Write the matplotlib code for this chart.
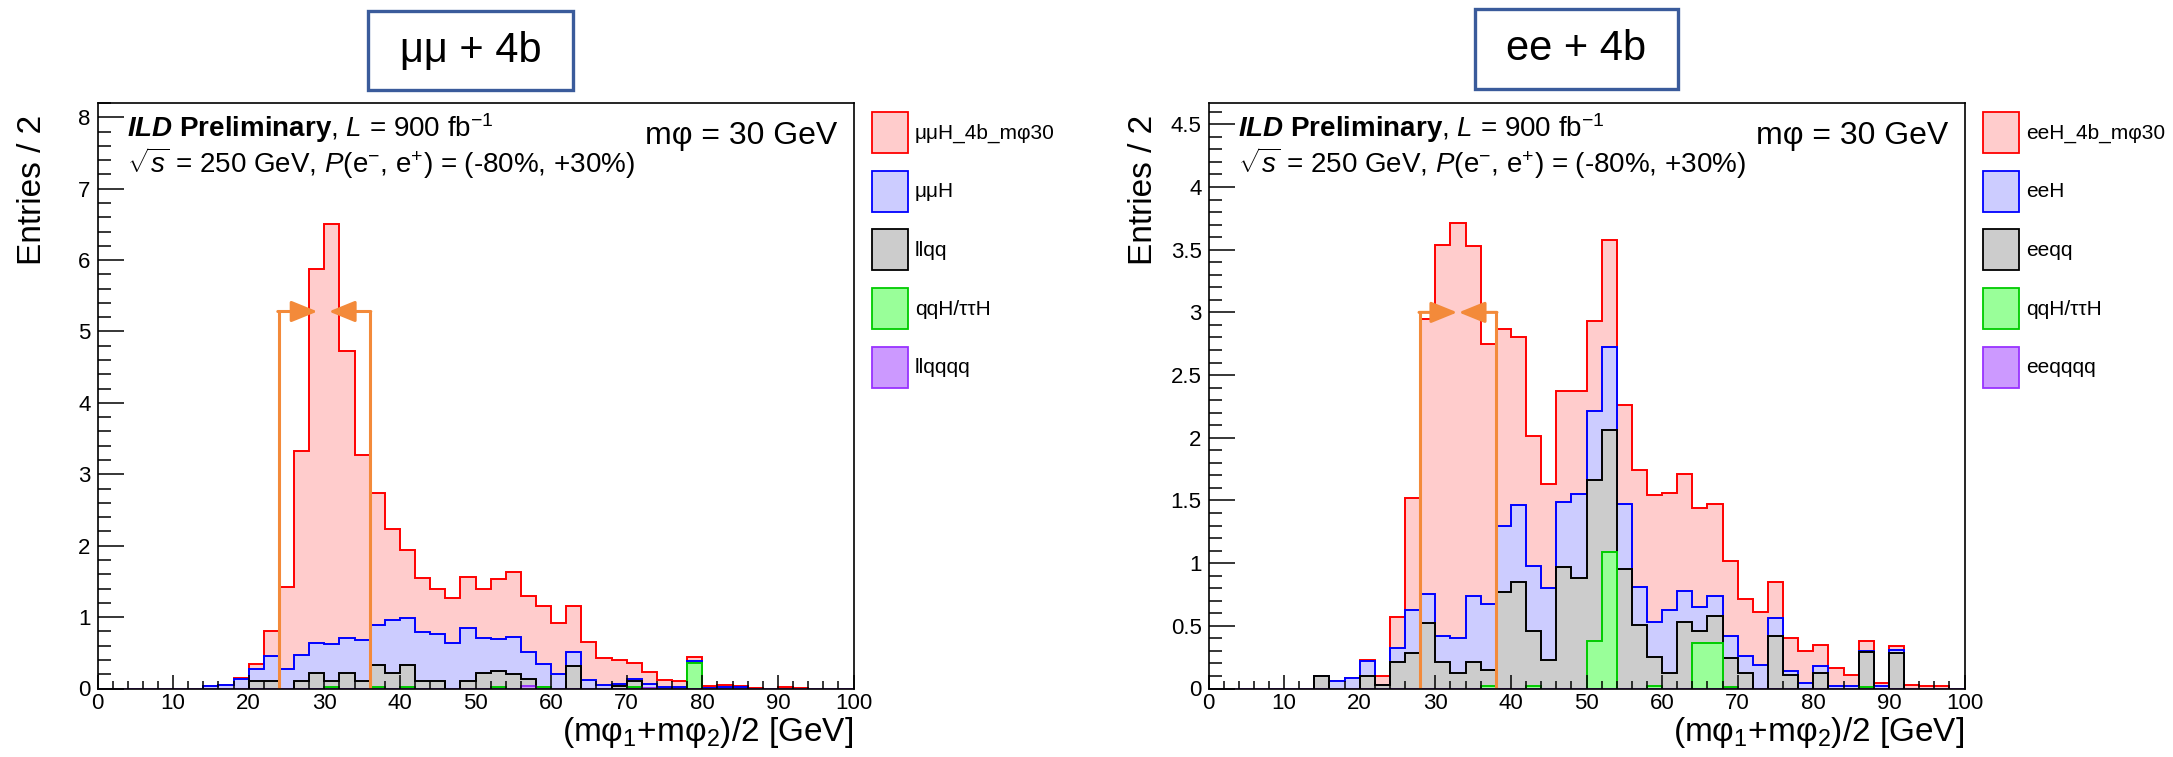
import matplotlib
matplotlib.use('Agg')
import matplotlib.pyplot as plt
import numpy as np
from matplotlib.patches import Rectangle
from matplotlib.ticker import MultipleLocator, FuncFormatter

plt.rcParams['font.family'] = ['Liberation Sans', 'DejaVu Sans']
plt.rcParams['mathtext.fontset'] = 'custom'
plt.rcParams['mathtext.rm'] = 'Liberation Sans'
plt.rcParams['mathtext.it'] = 'Liberation Sans:italic'
plt.rcParams['mathtext.bf'] = 'Liberation Sans:bold'
plt.rcParams['mathtext.bfit'] = 'Liberation Sans:bold:italic'

# 50 bins of 2 GeV, 0 - 100 GeV
edges = np.arange(0, 101, 2)

# ---- mumu + 4b : entries per bin for each process ----
mm_sig = [0, 0, 0, 0, 0, 0, 0, 0, 0, 0.01,
          0.08, 0.34, 1.15, 2.86, 5.23, 5.88, 4.02, 2.59, 1.85, 1.27,
          0.95, 0.76, 0.63, 0.63, 0.71, 0.68, 0.84, 0.91, 0.78, 0.82,
          0.72, 0.65, 0.53, 0.38, 0.33, 0.23, 0.16, 0.10, 0.09, 0.06,
          0.02, 0.03, 0.02, 0.01, 0, 0.02, 0.01, 0, 0, 0]
mm_H = [0, 0, 0, 0, 0, 0, 0, 0.03, 0.05, 0.14,
        0.17, 0.36, 0.27, 0.37, 0.42, 0.52, 0.49, 0.58, 0.56, 0.74,
        0.66, 0.69, 0.66, 0.64, 0.74, 0.49, 0.46, 0.51, 0.38, 0.32,
        0.20, 0.19, 0.12, 0.05, 0.03, 0.03, 0.06, 0.02, 0.02, 0.02,
        0.01, 0.02, 0.02, 0, 0, 0, 0, 0, 0, 0]
mm_llqq = [0, 0, 0, 0, 0, 0, 0, 0, 0, 0,
           0.10, 0.10, 0, 0.10, 0.22, 0.08, 0.22, 0.10, 0.31, 0.22,
           0.31, 0.10, 0.10, 0, 0.11, 0.22, 0.22, 0.21, 0.10, 0,
           0, 0.32, 0, 0, 0.04, 0.08, 0, 0, 0, 0,
           0, 0, 0, 0, 0, 0, 0, 0, 0, 0]
mm_qqH = [0, 0, 0, 0, 0, 0, 0, 0, 0, 0,
          0, 0, 0, 0, 0, 0.02, 0, 0, 0.02, 0,
          0.02, 0, 0, 0, 0, 0, 0.02, 0, 0, 0.02,
          0, 0, 0, 0, 0, 0.02, 0, 0, 0, 0.36,
          0, 0, 0, 0, 0, 0, 0, 0, 0, 0]
mm_llqqqq = [0, 0, 0, 0, 0, 0, 0, 0, 0, 0,
             0, 0, 0, 0, 0, 0, 0, 0, 0, 0,
             0, 0, 0, 0, 0, 0, 0, 0, 0.03, 0,
             0, 0, 0, 0, 0, 0, 0.01, 0, 0, 0,
             0, 0, 0, 0, 0, 0, 0, 0, 0, 0]
mm_labels = ['μμH_4b_mφ30', 'μμH', 'llqq', 'qqH/ττH', 'llqqqq']

# ---- ee + 4b ----
ee_sig = [0, 0, 0, 0, 0, 0, 0, 0, 0, 0,
          0.01, 0.07, 0.25, 0.89, 2.20, 3.12, 3.31, 2.79, 2.08, 1.57,
          1.34, 1.03, 0.83, 0.88, 0.82, 0.72, 0.86, 0.79, 0.93, 1.01,
          0.93, 0.93, 0.79, 0.73, 0.60, 0.45, 0.42, 0.29, 0.26, 0.26,
          0.17, 0.14, 0.09, 0.08, 0.02, 0.03, 0.03, 0.02, 0.02, 0]
ee_H = [0, 0, 0, 0, 0, 0, 0, 0, 0.06, 0.08,
        0.12, 0, 0.11, 0.35, 0.23, 0.21, 0.28, 0.53, 0.52, 0.53,
        0.61, 0.52, 0.57, 0.52, 0.67, 0.55, 0.66, 0.52, 0.30, 0.28,
        0.51, 0.25, 0.19, 0.16, 0.18, 0.14, 0.19, 0.14, 0.03, 0.04,
        0.06, 0.02, 0.02, 0.01, 0.02, 0.03, 0, 0, 0, 0]
ee_eeqq = [0, 0, 0, 0, 0, 0, 0, 0.10, 0, 0,
           0.10, 0.03, 0.21, 0.28, 0.52, 0.21, 0.12, 0.21, 0.13, 0.77,
           0.85, 0.44, 0.23, 0.97, 0.88, 1.28, 0.97, 0.95, 0.51, 0.23,
           0.12, 0.53, 0.10, 0.22, 0.23, 0.12, 0, 0.42, 0.11, 0,
           0.12, 0, 0, 0.28, 0, 0.28, 0, 0, 0, 0]
ee_qqH = [0, 0, 0, 0, 0, 0, 0, 0, 0, 0,
          0, 0, 0, 0, 0, 0, 0, 0, 0.02, 0,
          0, 0.02, 0, 0, 0, 0.38, 1.09, 0, 0, 0.02,
          0, 0, 0.36, 0.36, 0.01, 0, 0, 0, 0, 0,
          0, 0, 0, 0.01, 0, 0, 0, 0, 0, 0]
ee_eeqqqq = [0] * 50
ee_labels = ['eeH_4b_mφ30', 'eeH', 'eeqq', 'qqH/ττH', 'eeqqqq']

# cut window drawn on each plot (GeV, height, arrow tips)
mm_cut = [24, 36]
mm_cut_h = 5.28
mm_tips = [29.1, 30.6]
ee_cut = [28, 38]
ee_cut_h = 3.0
ee_tips = [32.9, 33.1]

face = ['#FFCCCC', '#CCCCFF', '#CCCCCC', '#99FF99', '#CC99FF']
edge = ['#FF0000', '#0000FF', '#000000', '#00CC00', '#9933FF']
orange = '#F38A3A'

W, H = 2173, 757
fig = plt.figure(figsize=(W / 100, H / 100), dpi=100)
fig.patch.set_facecolor('white')


def panel(x0, comps, labels, ymax, ymaj, ymin, cut, cut_h, tips, title, title_box, leg_x):
    ax = fig.add_axes([x0 / W, 1 - 688.5 / H, 756 / W, 585.5 / H])
    # stack: bottom-most is the last process
    cum = np.cumsum(np.array(comps[::-1], dtype=float), axis=0)[::-1]
    for k in range(len(comps)):
        ax.stairs(cum[k], edges, baseline=0, fill=True, facecolor=face[k],
                  edgecolor=edge[k], linewidth=1.4)
    ax.set_xlim(0, 100)
    ax.set_ylim(0, ymax)

    # cut window with arrows
    for xc in cut:
        ax.plot([xc, xc], [0, cut_h], color=orange, lw=2.2, solid_capstyle='butt')
    for xs, xt in zip(cut, tips):
        ax.annotate('', xy=(xt, cut_h), xytext=(xs - (0.15 if xs == cut[0] else -0.15), cut_h),
                    arrowprops=dict(arrowstyle='-|>,head_length=16,head_width=6.5',
                                    mutation_scale=1, color=orange, lw=2.2,
                                    shrinkA=0, shrinkB=0))

    for s in ax.spines.values():
        s.set_linewidth(1.2)
    ax.xaxis.set_major_locator(MultipleLocator(10))
    ax.xaxis.set_minor_locator(MultipleLocator(2))
    ax.yaxis.set_major_locator(MultipleLocator(ymaj))
    ax.yaxis.set_minor_locator(MultipleLocator(ymin))
    ax.yaxis.set_major_formatter(FuncFormatter(lambda v, p: '%g' % v))
    ax.tick_params(which='both', direction='in', top=False, right=False,
                   labelsize=16, width=1.1)
    ax.tick_params(axis='x', which='major', length=10.4, pad=3)
    ax.tick_params(axis='x', which='minor', length=5.5)
    ax.tick_params(axis='y', which='major', length=18.7, pad=5)
    ax.tick_params(axis='y', which='minor', length=9.4)

    ax.text(0.0384, 0.942,
            r'$\mathbfit{ILD}$ $\mathbf{Preliminary}$, $\mathit{L}$ = 900 fb$^{-1}$',
            transform=ax.transAxes, fontsize=20, va='baseline', ha='left')
    ax.text(0.0384, 0.880,
            r'$\sqrt{s}$ = 250 GeV, $\mathit{P}$(e$^{-}$, e$^{+}$) = (-80%, +30%)',
            transform=ax.transAxes, fontsize=20, va='baseline', ha='left')
    ax.text(0.979, 0.930, 'mφ = 30 GeV', transform=ax.transAxes,
            fontsize=23, va='baseline', ha='right')

    # axis titles
    fig.text((x0 + 756) / W, 1 - 741 / H, '(mφ$_{1}$+mφ$_{2}$)/2 [GeV]',
             fontsize=24, ha='right', va='baseline')
    fig.text((x0 - 65) / W, 1 - 115 / H, 'Entries / 2', rotation=90,
             fontsize=24, ha='center', va='top')

    # legend outside the frame
    for k, lab in enumerate(labels):
        yt = 112 + k * 58.7
        fig.patches.append(Rectangle((leg_x / W, 1 - (yt + 41) / H), 36 / W, 41 / H,
                                     transform=fig.transFigure, facecolor=face[k],
                                     edgecolor=edge[k], linewidth=1.3))
        fig.text((leg_x + 43) / W, 1 - (yt + 21) / H, lab, fontsize=15,
                 ha='left', va='center')

    # boxed title above
    bx0, by0, bx1, by1 = title_box
    fig.patches.append(Rectangle((bx0 / W, 1 - by1 / H), (bx1 - bx0) / W, (by1 - by0) / H,
                                 transform=fig.transFigure, facecolor='white',
                                 edgecolor='#3A5B9B', linewidth=2.4))
    fig.text((bx0 + bx1) / 2 / W, 1 - (by0 + by1) / 2 / H, title, fontsize=30,
             ha='center', va='center')
    return ax


panel(97.5, [mm_sig, mm_H, mm_llqq, mm_qqH, mm_llqqqq], mm_labels, 8.2, 1, 0.2,
      mm_cut, mm_cut_h, mm_tips, 'μμ + 4b', (368, 11, 573, 90), 872)
panel(1208.5, [ee_sig, ee_H, ee_eeqq, ee_qqH, ee_eeqqqq], ee_labels, 4.67, 0.5, 0.1,
      ee_cut, ee_cut_h, ee_tips, 'ee + 4b', (1475, 9, 1678, 89), 1983)

fig.savefig('out.png', dpi=100)
